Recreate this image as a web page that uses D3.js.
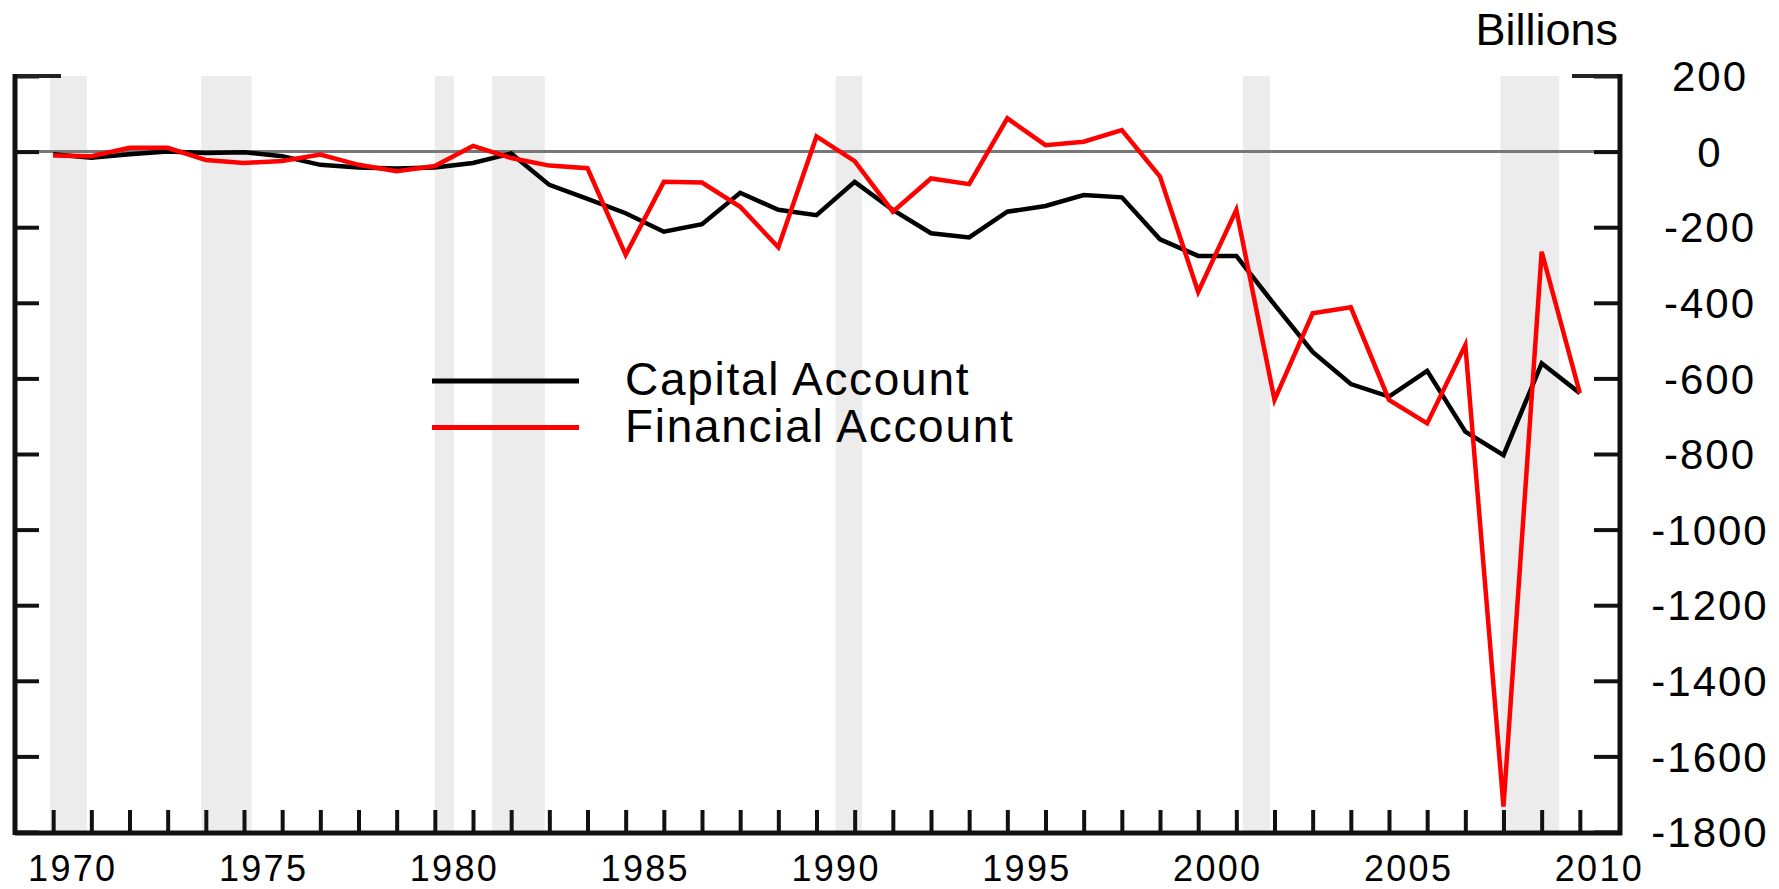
<!DOCTYPE html>
<html>
<head>
<meta charset="utf-8">
<script src="https://cdn.jsdelivr.net/npm/d3@7"></script>
<style>
  body { margin: 0; background: #fff; }
  text { font-family: "Liberation Sans", Arial, Helvetica, sans-serif; fill: #000; }
</style>
</head>
<body>
<div id="chart"></div>
<script>
// year markers, one point per year boundary
var years = d3.range(1970, 2011);

// black line (billions)
var capitalAccount = [
  -7, -16, -7, 0, -4, -2, -12, -35, -42, -45,
  -42, -30, -5, -88, -125, -163, -212, -192, -109, -154,
  -168, -80, -154, -216, -227, -159, -144, -115, -121, -232,
  -276, -276, -405, -530, -615, -648, -580, -741, -803, -560,
  -639
];

// red line (billions)
var financialAccount = [
  -10, -12, 10, 10, -22, -30, -25, -8, -35, -52,
  -38, 15, -17, -37, -44, -273, -80, -82, -146, -253,
  40, -25, -159, -71, -86, 88, 17, 26, 57, -66,
  -371, -154, -657, -428, -412, -657, -719, -512, -1733, -265,
  -639
];

// recession shading (decimal years)
var recessionStart = [1969.92, 1973.88, 1980.0, 1981.5, 1990.5, 2001.17, 2007.92];
var recessionEnd   = [1970.88, 1975.2, 1980.5, 1982.88, 1991.2, 2001.88, 2009.46];

var yTicks = d3.range(-1800, 201, 200);
var xLabelYears = [1970, 1975, 1980, 1985, 1990, 1995, 2000, 2005, 2010];

var seriesNames = ["Capital Account", "Financial Account"];
var seriesColors = ["#000000", "#ff0000"];

var width = 1779, height = 889;
var plotLeft = 15, plotRight = 1618, plotTop = 76, plotBottom = 832;

var svg = d3.select("#chart").append("svg")
  .attr("width", width)
  .attr("height", height);

/* scales */
var x = d3.scaleLinear().domain([1969, 2011]).range([plotLeft, plotRight]);
var y = d3.scaleLinear().domain([-1800, 200]).range([plotBottom, plotTop]);

/* recession bands */
svg.append("g")
  .selectAll("rect")
  .data(recessionStart)
  .enter()
  .append("rect")
  .attr("x", (d, i) => x(d))
  .attr("width", (d, i) => x(recessionEnd[i]) - x(d))
  .attr("y", plotTop)
  .attr("height", plotBottom - plotTop)
  .attr("fill", "#ececec");

/* zero line */
svg.append("line")
  .attr("x1", plotLeft).attr("x2", plotRight)
  .attr("y1", y(0)).attr("y2", y(0))
  .attr("stroke", "#777")
  .attr("stroke-width", 3);

/* lines */
var line = d3.line()
  .x((d, i) => x(years[i]))
  .y(d => y(d));

[capitalAccount, financialAccount].forEach(function(s, k) {
  svg.append("path")
    .datum(s)
    .attr("d", line)
    .attr("fill", "none")
    .attr("stroke", seriesColors[k])
    .attr("stroke-width", 4.5);
});

/* left axis: ticks only, pointing inward */
svg.append("g")
  .attr("transform", `translate(${plotLeft},0)`)
  .call(d3.axisRight(y).tickValues(yTicks).tickSizeInner(24).tickSizeOuter(0).tickFormat(""));

/* right axis: ticks inward, labels centred outside */
var rightAxis = svg.append("g")
  .attr("transform", `translate(${plotRight},0)`)
  .call(d3.axisRight(y).tickValues(yTicks).tickSizeInner(-24).tickSizeOuter(0).tickPadding(92)
    .tickFormat(d => String(d)));
rightAxis.selectAll("text")
  .attr("text-anchor", "middle")
  .attr("dy", "0.35em")
  .style("font-size", "42px")
  .style("letter-spacing", "2px")
  .style("font-family", "'Liberation Sans', Arial, sans-serif")
  .style("fill", "#000");

/* bottom axis: year ticks pointing up */
svg.append("g")
  .attr("transform", `translate(0,${plotBottom})`)
  .call(d3.axisBottom(x).tickValues(years).tickSizeInner(-22).tickSizeOuter(0).tickFormat(""));

/* year labels, centred in the year */
var labelAxis = svg.append("g")
  .attr("transform", `translate(0,${plotBottom})`)
  .call(d3.axisBottom(x).tickValues(xLabelYears.map(d => d + 0.5)).tickSize(0).tickPadding(23)
    .tickFormat(d => String(Math.floor(d))));
labelAxis.selectAll("text")
  .style("font-size", "36px")
  .style("letter-spacing", "2.3px")
  .style("font-family", "'Liberation Sans', Arial, sans-serif")
  .style("fill", "#000");

svg.selectAll(".domain").remove();
svg.selectAll(".tick line").attr("stroke", "#111").attr("stroke-width", 4);

/* longer ticks at the top corners */
svg.append("line").attr("x1", plotLeft).attr("x2", plotLeft + 46).attr("y1", y(200)).attr("y2", y(200))
  .attr("stroke", "#222").attr("stroke-width", 4);
svg.append("line").attr("x1", plotRight - 46).attr("x2", plotRight).attr("y1", y(200)).attr("y2", y(200))
  .attr("stroke", "#222").attr("stroke-width", 4);

/* frame: left, right, bottom */
svg.append("line").attr("x1", plotLeft).attr("x2", plotLeft).attr("y1", plotTop - 2).attr("y2", plotBottom + 3)
  .attr("stroke", "#111").attr("stroke-width", 5);
svg.append("line").attr("x1", plotRight + 2).attr("x2", plotRight + 2).attr("y1", plotTop - 2).attr("y2", plotBottom + 3)
  .attr("stroke", "#111").attr("stroke-width", 5);
svg.append("line").attr("x1", plotLeft).attr("x2", plotRight + 4).attr("y1", plotBottom + 1).attr("y2", plotBottom + 1)
  .attr("stroke", "#111").attr("stroke-width", 5);

/* units */
svg.append("text")
  .attr("x", plotRight)
  .attr("y", 45)
  .attr("text-anchor", "end")
  .style("font-size", "45px")
  .text("Billions");

/* legend */
var legend = svg.append("g");
seriesNames.forEach(function(name, k) {
  var ly = 381 + k * 46.5;
  legend.append("line")
    .attr("x1", 432).attr("x2", 579)
    .attr("y1", ly).attr("y2", ly)
    .attr("stroke", seriesColors[k])
    .attr("stroke-width", 5);
  legend.append("text")
    .attr("x", 625)
    .attr("y", ly + 14)
    .style("font-size", "46px")
    .style("letter-spacing", "1.7px")
    .text(name);
});
</script>
</body>
</html>
